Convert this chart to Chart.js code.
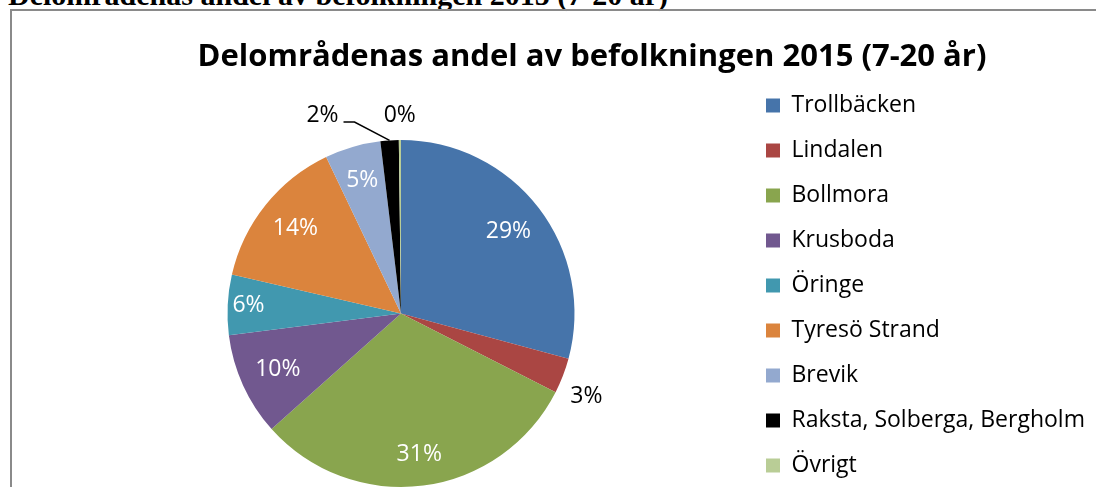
<!DOCTYPE html>
<html>
<head>
<meta charset="utf-8">
<script src="https://cdn.jsdelivr.net/npm/chart.js@4.4.1/dist/chart.umd.min.js"></script>
<style>
  html, body { margin: 0; padding: 0; background: #fff; overflow: hidden; width: 1096px; height: 487px; }
  #docTitle {
    position: absolute; left: 8px; top: -20px; white-space: nowrap;
    font-family: "Liberation Serif", serif; font-weight: bold; font-size: 30px; line-height: 30px; color: #000;
  }
  #frame {
    position: absolute; left: 10px; top: 9px; width: 1200px; height: 600px;
    border: 2px solid #8a8a8a; box-sizing: border-box;
  }
  #pie { position: absolute; left: 0; top: 0; }
</style>
</head>
<body>
<div id="docTitle">Delområdenas andel av befolkningen 2015 (7-20 år)</div>
<div id="frame"></div>
<canvas id="pie" width="1126" height="571"></canvas>
<script>
// Data
const areas = ["Trollbäcken", "Lindalen", "Bollmora", "Krusboda", "Öringe",
  "Tyresö Strand", "Brevik", "Raksta, Solberga, Bergholm", "Övrigt"];
const shares = [29.2, 3.3, 30.9, 9.6, 5.6, 14.3, 5.2, 1.7, 0.2];
const colors = ["#4674AA", "#AA4643", "#89A54E", "#71588F", "#4198AF",
  "#DB843D", "#93A9CF", "#000000", "#B9CD96"];

const LEGEND_WIDTH = 382;

// where each percentage label goes, relative to its slice
const labelPlacement = [
  { r: 0.78, shift: 0, color: "#fff" },
  { r: 1.17, shift: 3, color: "#000" },
  { r: 0.82, shift: 0, color: "#fff" },
  { r: 0.78, shift: 0, color: "#fff" },
  { r: 0.88, shift: 0, color: "#fff" },
  { r: 0.78, shift: 0, color: "#fff" },
  { r: 0.80, shift: 0, color: "#fff" },
  { r: 1.23, shift: -17.8, color: "#000", leader: true },
  { r: 1.14, shift: 0, color: "#000" }
];

// keep the legend box at a fixed width
const fixedLegendWidth = {
  id: "fixedLegendWidth",
  beforeLayout(chart) {
    const legend = chart.legend;
    if (legend && !legend._fixedFit) {
      const fit = legend.fit;
      legend.fit = function () { fit.call(this); this.width = LEGEND_WIDTH; };
      legend._fixedFit = true;
    }
  }
};

// percentage labels
const pieLabels = {
  id: "pieLabels",
  afterDatasetsDraw(chart) {
    const ctx = chart.ctx;
    const meta = chart.getDatasetMeta(0);
    const values = chart.data.datasets[0].data;
    const total = values.reduce((a, b) => a + b, 0);
    ctx.save();
    ctx.font = '23px "Open Sans"';
    ctx.textAlign = "center";
    ctx.textBaseline = "middle";
    meta.data.forEach((arc, i) => {
      const p = labelPlacement[i];
      const { x, y, startAngle, endAngle, outerRadius } =
        arc.getProps(["x", "y", "startAngle", "endAngle", "outerRadius"], true);
      const mid = (startAngle + endAngle) / 2;
      const a = mid + p.shift * Math.PI / 180;
      const tx = x + Math.cos(a) * outerRadius * p.r;
      const ty = y + Math.sin(a) * outerRadius * p.r;
      if (p.leader) {
        ctx.strokeStyle = "#000";
        ctx.lineWidth = 1.5;
        ctx.beginPath();
        ctx.moveTo(x + Math.cos(mid) * outerRadius, y + Math.sin(mid) * outerRadius);
        ctx.lineTo(tx + 32, ty + 7);
        ctx.lineTo(tx + 21, ty + 7);
        ctx.stroke();
      }
      ctx.fillStyle = p.color;
      ctx.fillText(Math.round(values[i] / total * 100) + "%", tx, ty);
    });
    ctx.restore();
  }
};

new Chart(document.getElementById("pie"), {
  type: "pie",
  data: {
    labels: areas,
    datasets: [{
      data: shares,
      backgroundColor: colors,
      borderWidth: 0
    }]
  },
  options: {
    responsive: false,
    animation: false,
    layout: { padding: { left: 58, right: 0, top: 0, bottom: 0 } },
    plugins: {
      tooltip: { enabled: false },
      title: {
        display: true,
        text: "Delområdenas andel av befolkningen 2015 (7-20 år)",
        color: "#000",
        font: { family: "Open Sans", size: 31, weight: "bold" },
        padding: { top: 38.4, bottom: 64.4 }
      },
      subtitle: {
        display: true,
        position: "bottom",
        text: "",
        font: { size: 10 },
        padding: { top: 72, bottom: 0 }
      },
      legend: {
        position: "right",
        labels: {
          color: "#000",
          font: { family: "Open Sans", size: 23 },
          boxWidth: 14,
          boxHeight: 14,
          padding: 22
        }
      }
    }
  },
  plugins: [fixedLegendWidth, pieLabels]
});
</script>
</body>
</html>
